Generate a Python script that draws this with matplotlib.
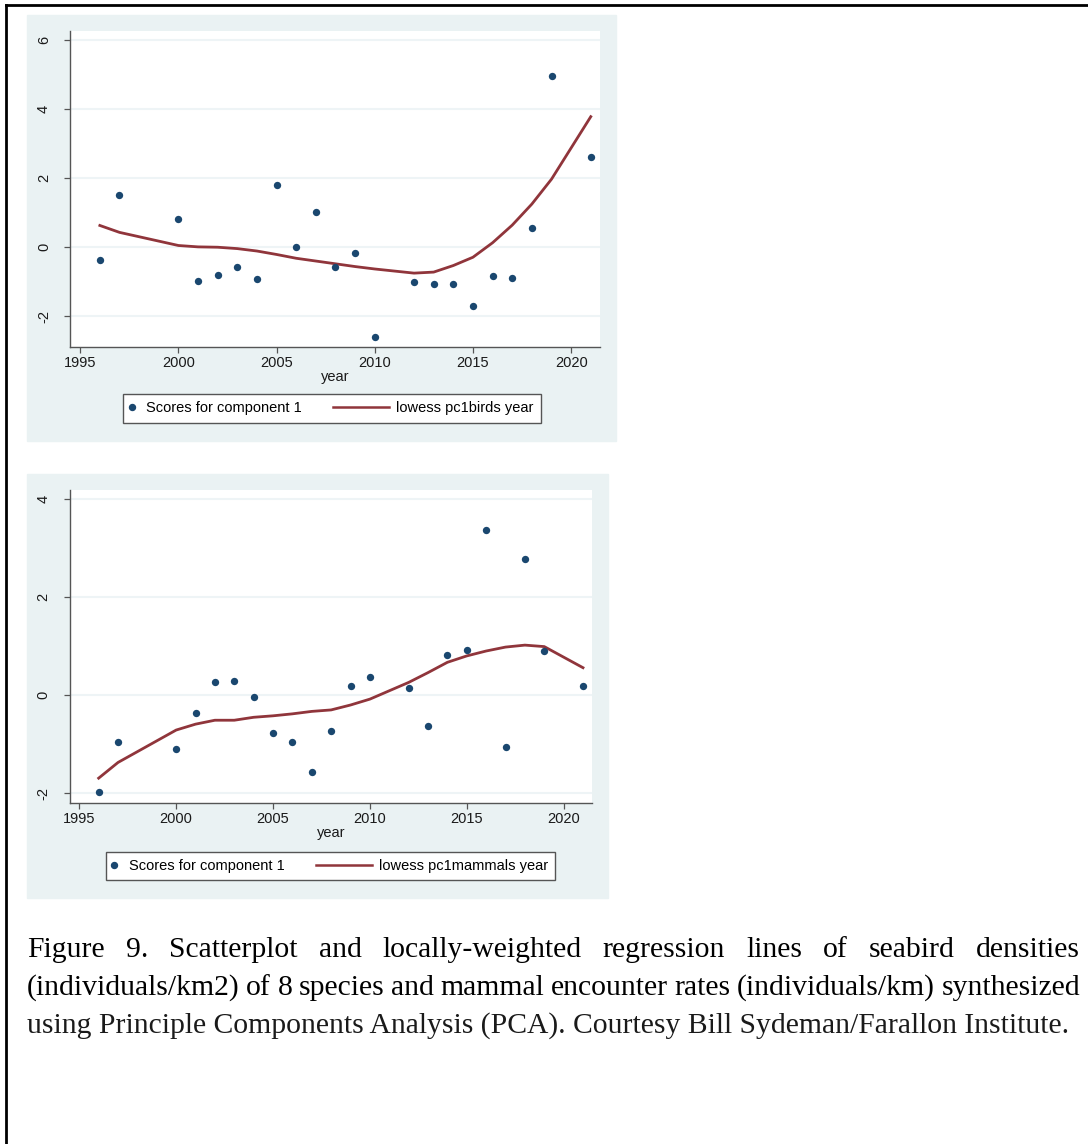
import matplotlib
matplotlib.use("Agg")
import matplotlib.pyplot as plt
from matplotlib.lines import Line2D
from matplotlib.patches import Rectangle
from matplotlib.legend_handler import HandlerBase

# data
years = [1996, 1997, 2000, 2001, 2002, 2003, 2004, 2005, 2006, 2007, 2008,
         2009, 2010, 2012, 2013, 2014, 2015, 2016, 2017, 2018, 2019, 2021]

birds_pc1 = [-0.36, 1.51, 0.83, -0.99, -0.79, -0.58, -0.92, 1.80, 0.00, 1.03,
             -0.58, -0.17, -2.59, -1.01, -1.07, -1.07, -1.71, -0.82, -0.89,
             0.55, 4.96, 2.62]
birds_lowess = [0.63, 0.43, 0.05, 0.01, 0.00, -0.04, -0.11, -0.21, -0.32,
                -0.40, -0.48, -0.56, -0.63, -0.75, -0.72, -0.53, -0.29, 0.13,
                0.64, 1.25, 1.97, 3.78]

mammals_pc1 = [-1.98, -0.95, -1.10, -0.37, 0.26, 0.29, -0.03, -0.78, -0.96,
               -1.56, -0.72, 0.18, 0.38, 0.15, -0.63, 0.82, 0.92, 3.37, -1.06,
               2.77, 0.90, 0.18]
mammals_lowess = [-1.69, -1.37, -0.71, -0.59, -0.51, -0.51, -0.45, -0.42,
                  -0.38, -0.33, -0.30, -0.20, -0.08, 0.26, 0.46, 0.67, 0.80,
                  0.90, 0.98, 1.02, 0.99, 0.56]

x_ticks = [1995, 2000, 2005, 2010, 2015, 2020]

caption_lines = [
    "Figure 9. Scatterplot and locally-weighted regression lines of seabird densities",
    "(individuals/km2) of 8 species and mammal encounter rates (individuals/km) synthesized",
    "using Principle Components Analysis (PCA). Courtesy Bill Sydeman/Farallon Institute.",
]

W, H = 1088, 1144
BG = "#EAF2F3"
GRID = "#EEF4F6"
NAVY = "#1A476F"
MAROON = "#90353B"

plt.rcParams["font.family"] = ["Liberation Sans", "DejaVu Sans"]


def px(x0, y0, x1, y1):
    # pixel box -> figure fraction [left, bottom, width, height]
    return [x0 / W, 1 - y1 / H, (x1 - x0) / W, (y1 - y0) / H]


class DotHandler(HandlerBase):
    def create_artists(self, legend, orig_handle, xdescent, ydescent,
                       width, height, fontsize, trans):
        ln = Line2D([1.0], [height / 2 - ydescent], marker="o", ms=4.3,
                    color=NAVY, linestyle="none", transform=trans)
        return [ln]


class LongLineHandler(HandlerBase):
    def create_artists(self, legend, orig_handle, xdescent, ydescent,
                       width, height, fontsize, trans):
        y = height / 2 - ydescent
        ln = Line2D([-33.8, 6.5], [y, y], color=MAROON, lw=1.8,
                    transform=trans)
        return [ln]


def panel(fig, bg_box, ax_box, ylim, yticks, y, yl, label, leg_xy):
    fig.patches.append(Rectangle((bg_box[0], bg_box[1]), bg_box[2], bg_box[3],
                                 transform=fig.transFigure, color=BG,
                                 zorder=-5))
    ax = fig.add_axes(ax_box, zorder=2)
    ax.set_facecolor("white")
    ax.set_xlim(1994.5, 2021.48)
    ax.set_ylim(*ylim)
    ax.set_xticks(x_ticks)
    ax.set_yticks(yticks)
    ax.set_yticklabels([str(v) for v in yticks], rotation=90, va="center")
    for v in yticks:
        ax.axhline(v, color=GRID, lw=1.5, zorder=0)
    for s in ["top", "right"]:
        ax.spines[s].set_visible(False)
    for s in ["left", "bottom"]:
        ax.spines[s].set_color("#555555")
        ax.spines[s].set_linewidth(1.0)
    ax.tick_params(axis="both", direction="out", length=4, width=0.9,
                   color="#555555", labelsize=10.5, labelcolor="#1a1a1a")
    ax.tick_params(axis="y", pad=10)
    ax.tick_params(axis="x", pad=3)
    ax.set_xlabel("year", fontsize=10.5, color="#1a1a1a", labelpad=0)

    dots = ax.scatter(years, y, s=28, color=NAVY, zorder=3, linewidths=0)
    line, = ax.plot(years, yl, color=MAROON, lw=2.0, zorder=2)

    ax.legend([dots, line], ["Scores for component 1", label],
              handler_map={dots: DotHandler(), line: LongLineHandler()},
              loc="upper left", bbox_to_anchor=leg_xy,
              bbox_transform=fig.transFigure, borderaxespad=0,
              ncol=2, fontsize=10.5, frameon=True, fancybox=False,
              edgecolor="#555555", framealpha=1, handlelength=1.0,
              handletextpad=0.1, columnspacing=5.36, borderpad=0.5)
    ax.get_legend().get_frame().set_linewidth(1.0)
    return ax


def justify(fig, renderer, words, x0, x1, y_base, size):
    texts = [fig.text(0, 1 - y_base / H, w, fontsize=size,
                      family="Liberation Serif", va="baseline", ha="left")
             for w in words]
    widths = [t.get_window_extent(renderer).width for t in texts]
    gap = (x1 - x0 - sum(widths)) / (len(words) - 1)
    x = x0
    for t, w in zip(texts, widths):
        t.set_x(x / W)
        x += w + gap


def main():
    fig = plt.figure(figsize=(W / 100, H / 100), dpi=100)
    fig.patch.set_facecolor("white")

    # outer border (top and left only visible)
    fig.add_artist(Line2D([6 / W, 6 / W], [0, 1 - 5 / H], color="black",
                          lw=2, transform=fig.transFigure))
    fig.add_artist(Line2D([6 / W, 1], [1 - 5 / H, 1 - 5 / H], color="black",
                          lw=2, transform=fig.transFigure))

    # top: birds
    panel(fig, px(27, 15, 616, 441), px(70.4, 31, 600.2, 346.7),
          (-2.88, 6.26), [-2, 0, 2, 4, 6], birds_pc1, birds_lowess,
          "lowess pc1birds year", (123 / W, 1 - 394 / H))

    # bottom: mammals
    panel(fig, px(27, 474, 608, 898), px(69.6, 490, 592.3, 802.7),
          (-2.19, 4.18), [-2, 0, 2, 4], mammals_pc1, mammals_lowess,
          "lowess pc1mammals year", (105.6 / W, 1 - 851.7 / H))

    # caption
    renderer = fig.canvas.get_renderer()
    size = 21.3
    justify(fig, renderer, caption_lines[0].split(" "), 27, 1080, 957, size)
    justify(fig, renderer, caption_lines[1].split(" "), 27, 1080, 995, size)
    fig.text(27 / W, 1 - 1033 / H, caption_lines[2], fontsize=size,
             family="Liberation Serif", va="baseline", ha="left",
             color="#1a1a1a")

    fig.savefig("out.png", dpi=100)


if __name__ == "__main__":
    main()
